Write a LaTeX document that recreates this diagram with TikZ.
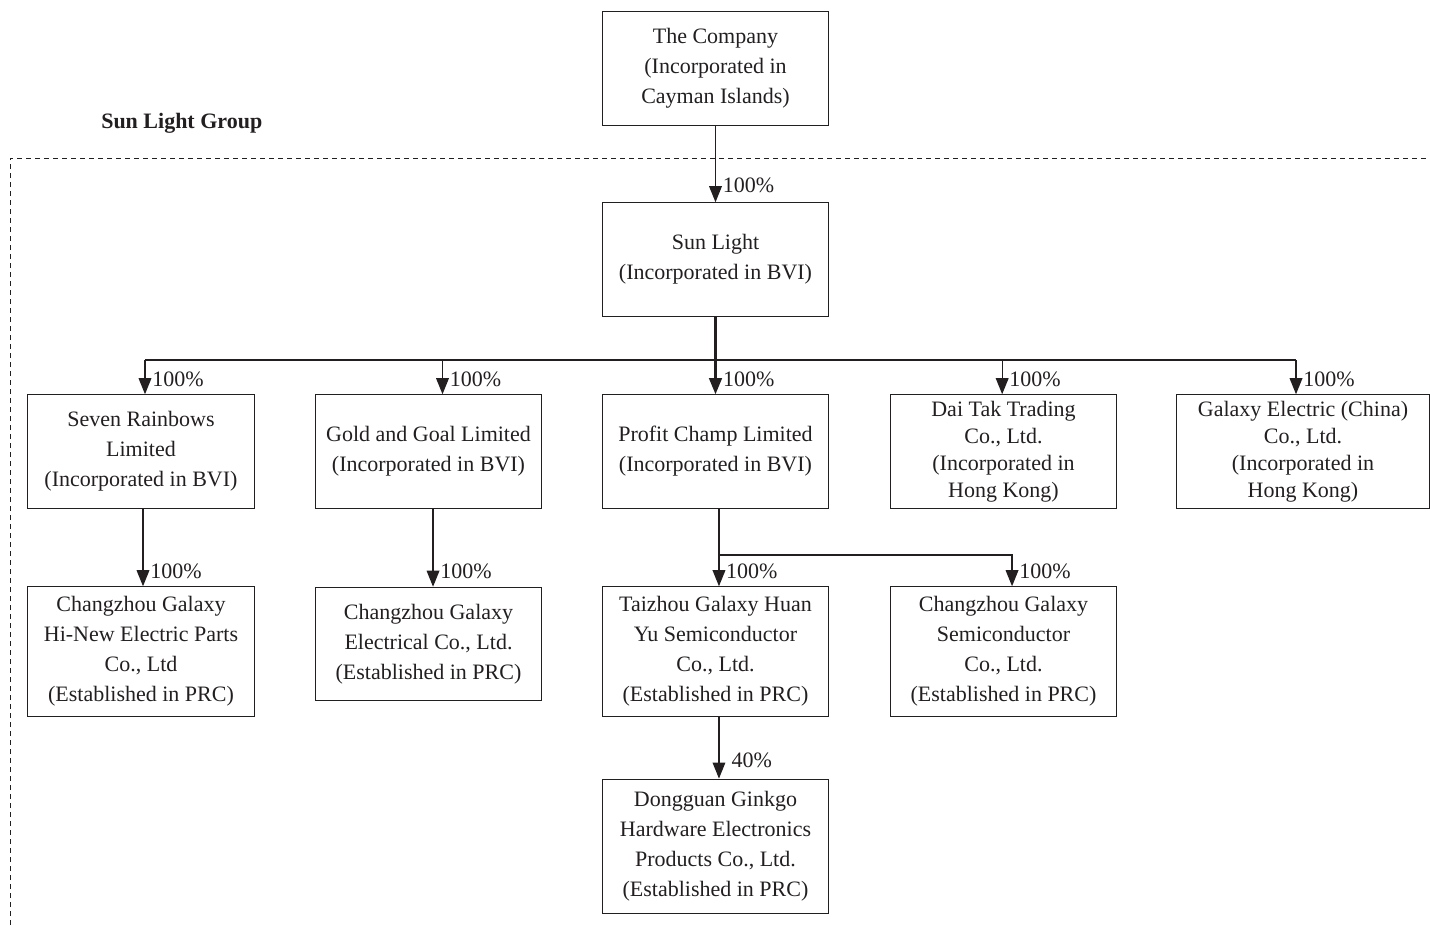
\documentclass[tikz,border=0pt]{standalone}
\usepackage{fontspec}
\setmainfont{Liberation Serif}
\usetikzlibrary{arrows.meta, positioning, calc}
\definecolor{inkgrey}{RGB}{35, 31, 32}

\begin{document}
\begin{tikzpicture}[
    x=0.75pt, y=-0.75pt,
    every node/.style={text=inkgrey},
    entity/.style={rectangle, draw=inkgrey, line width=0.9pt, minimum width=170pt, minimum height=85pt, align=center, font=\fontsize{16.5}{22.5}\selectfont, inner sep=0pt},
    tallentity/.style={entity, minimum height=97pt},
    tightentity/.style={entity, font=\fontsize{16.5}{20.25}\selectfont},
    pct/.style={anchor=base west, inner sep=0pt, xshift=5pt, yshift=6pt, font=\fontsize{16.5}{20}\selectfont},
    link/.style={draw=inkgrey, line width=0.9pt},
    arrow/.style={link, -{Triangle[length=12pt, width=9.5pt]}}
]
\useasboundingbox (0,0) rectangle (1430,925);

% Holding company
\node[entity] (company) at (715.5, 68.5) {The Company\\(Incorporated in\\Cayman Islands)};

% Group frame
\node[anchor=west, inner sep=0pt, font=\fontsize{16.5}{20}\selectfont\bfseries] (grouplabel) at (101, 123) {Sun Light Group};
\draw[draw=inkgrey, line width=0.75pt, dash pattern=on 3.75pt off 3pt] (10, 925) -- (10, 158) -- (1430, 158);

% Sun Light
\node[entity] (sunlight) at (715.5, 259.5) {Sun Light\\(Incorporated in BVI)};
\draw[arrow] (company.south) -- (sunlight.north) node[pct, yshift=1pt] {100\%};

% Second tier
\node[entity] (seven) at (141, 451.5) {Seven Rainbows\\Limited\\(Incorporated in BVI)};
\node[entity] (gold) at (428.5, 451.5) {Gold and Goal Limited\\(Incorporated in BVI)};
\node[entity] (profit) at (715.5, 451.5) {Profit Champ Limited\\(Incorporated in BVI)};
\node[tightentity] (daitak) at (1003.5, 451.5) {Dai Tak Trading\\Co., Ltd.\\(Incorporated in\\Hong Kong)};
\node[tightentity, minimum width=189.5pt] (galaxy) at (1303, 451.5) {Galaxy Electric (China)\\Co., Ltd.\\(Incorporated in\\Hong Kong)};

% Bus from Sun Light
\coordinate (bus) at (715, 360);
\draw[arrow, line width=1.6pt] (sunlight.south) -- (profit.north) node[pct] {100\%};
\draw[link] ([xshift=3pt]seven.north |- bus) -- ([xshift=-5.25pt]galaxy.north |- bus);
\draw[arrow] ([xshift=3pt]seven.north |- bus) -- ([xshift=3pt]seven.north) node[pct] {100\%};
\draw[arrow] ([xshift=10.5pt]gold.north |- bus) -- ([xshift=10.5pt]gold.north) node[pct] {100\%};
\draw[arrow] ([xshift=-1pt]daitak.north |- bus) -- ([xshift=-1pt]daitak.north) node[pct] {100\%};
\draw[arrow] ([xshift=-5.25pt]galaxy.north |- bus) -- ([xshift=-5.25pt]galaxy.north) node[pct] {100\%};

% Third tier
\node[tallentity] (hinew) at (141, 651.5) {Changzhou Galaxy\\Hi-New Electric Parts\\Co., Ltd\\(Established in PRC)};
\node[entity] (electrical) at (428.5, 644) {Changzhou Galaxy\\Electrical Co., Ltd.\\(Established in PRC)};
\node[tallentity] (taizhou) at (715.5, 651.5) {Taizhou Galaxy Huan\\Yu Semiconductor\\Co., Ltd.\\(Established in PRC)};
\node[tallentity] (semicond) at (1003.5, 651.5) {Changzhou Galaxy\\Semiconductor\\Co., Ltd.\\(Established in PRC)};

\draw[arrow] ([xshift=1.5pt]seven.south) -- ([xshift=1.5pt]hinew.north) node[pct] {100\%};
\draw[arrow] ([xshift=3.4pt]gold.south) -- ([xshift=3.4pt]electrical.north) node[pct] {100\%};

\coordinate (split) at (719, 555);
\draw[arrow] ([xshift=2.6pt]profit.south) -- ([xshift=2.6pt]taizhou.north) node[pct] {100\%};
\draw[arrow] (split) -| ([xshift=6.4pt]semicond.north) node[pct] {100\%};

% Associate
\node[entity, minimum height=101pt] (dongguan) at (715.5, 846.5) {Dongguan Ginkgo\\Hardware Electronics\\Products Co., Ltd.\\(Established in PRC)};
\draw[arrow] ([xshift=2.6pt]taizhou.south) -- ([xshift=2.6pt]dongguan.north) node[pct, xshift=4pt, yshift=2pt] {40\%};

\end{tikzpicture}
\end{document}
